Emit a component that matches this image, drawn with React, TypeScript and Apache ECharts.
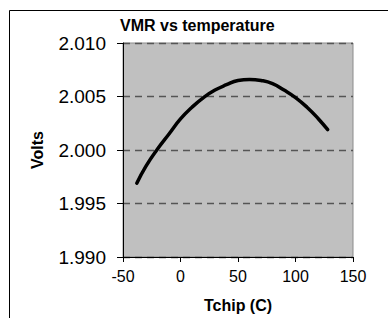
import React, { useEffect, useRef } from "react";
import * as echarts from "echarts";

const titleText = "VMR vs temperature";
const xName = "Tchip (C)";
const yName = "Volts";
const temps = [-38, -30, -20, -10, 0, 10, 20, 30, 40, 50, 60, 70, 80, 90, 100, 110, 120, 128];
const volts = [1.9969, 1.9985, 2.0001, 2.0015, 2.0029, 2.004, 2.0049, 2.0056, 2.0061, 2.0065, 2.0066, 2.0065, 2.0062, 2.0056, 2.0049, 2.004, 2.0029, 2.0019];
const xMin = -50;
const xMax = 150;
const xStep = 50;
const yMin = 1.99;
const yMax = 2.01;
const yStep = 0.005;

const FONT = "'Liberation Sans', Arial, sans-serif";

export default function App() {
  const ref = useRef<HTMLDivElement>(null);
  useEffect(() => {
    document.body.style.margin = "0";
    const chart = echarts.init(ref.current!, undefined, { renderer: "svg" });
    chart.setOption({
      animation: false,
      backgroundColor: "#ffffff",
      title: {
        text: titleText,
        left: 120,
        top: 17,
        padding: 0,
        textStyle: { fontFamily: FONT, fontSize: 16, fontWeight: "bold", color: "#000" },
      },
      grid: {
        left: 123,
        top: 43,
        width: 230,
        height: 215,
        show: true,
        backgroundColor: "#c0c0c0",
        borderColor: "#8c8c8c",
        borderWidth: 1,
      },
      xAxis: {
        type: "value",
        min: xMin,
        max: xMax,
        interval: xStep,
        name: xName,
        nameLocation: "middle",
        nameGap: 40,
        nameTextStyle: { fontFamily: FONT, fontSize: 16, fontWeight: "bold", color: "#000" },
        axisLine: { show: true, onZero: false, lineStyle: { color: "#000", width: 1 } },
        axisTick: { show: true, inside: false, length: 5, lineStyle: { color: "#000" } },
        axisLabel: { fontFamily: FONT, fontSize: 16, color: "#000", margin: 11 },
        splitLine: { show: false },
      },
      yAxis: {
        type: "value",
        min: yMin,
        max: yMax,
        interval: yStep,
        name: yName,
        nameLocation: "middle",
        nameGap: 78,
        nameTextStyle: { fontFamily: FONT, fontSize: 16, fontWeight: "bold", color: "#000" },
        axisLine: { show: true, onZero: false, lineStyle: { color: "#000", width: 1 } },
        axisTick: { show: true, inside: false, length: 6, lineStyle: { color: "#000" } },
        axisLabel: {
          fontFamily: FONT,
          fontSize: 19,
          color: "#000",
          margin: 17,
          formatter: (v: number) => v.toFixed(3),
        },
        splitLine: { show: true, lineStyle: { color: "#555", width: 1.3, type: [7, 5] } },
      },
      series: [
        {
          type: "line",
          data: temps.map((t, i) => [t, volts[i]]),
          smooth: true,
          showSymbol: false,
          lineStyle: { color: "#000", width: 3.5, cap: "round" },
          z: 5,
        },
      ],
      graphic: [
        { type: "line", shape: { x1: 9.5, y1: 10.5, x2: 388, y2: 10.5 }, style: { stroke: "#000", lineWidth: 1 } },
        { type: "line", shape: { x1: 9.5, y1: 10.5, x2: 9.5, y2: 318 }, style: { stroke: "#000", lineWidth: 1 } },
      ],
    });
    return () => chart.dispose();
  }, []);
  return <div ref={ref} style={{ position: "absolute", left: 0, top: 0, width: 388, height: 318 }} />;
}
